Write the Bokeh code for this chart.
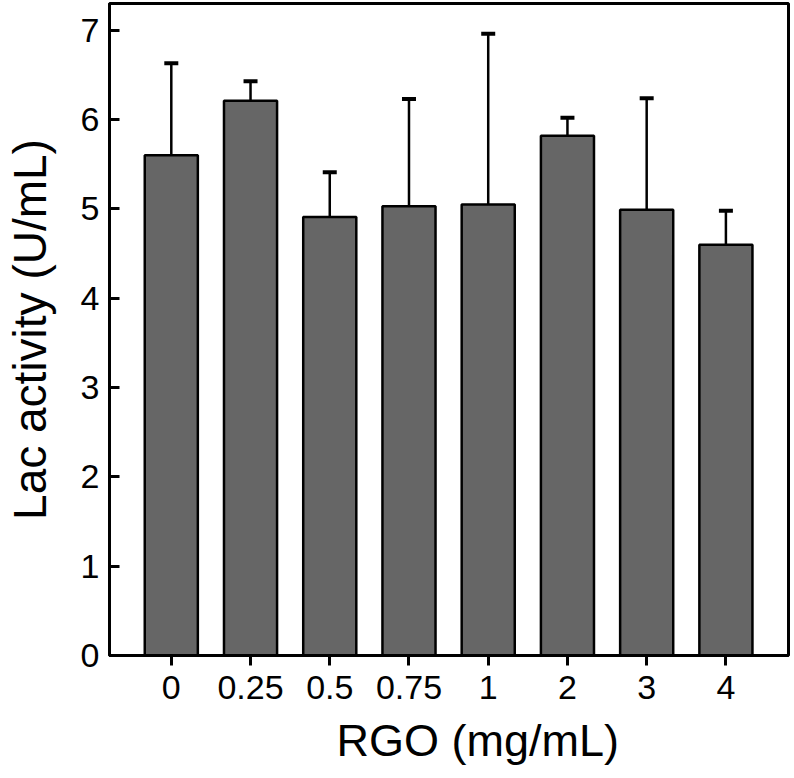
from bokeh.plotting import figure
from bokeh.models import ColumnDataSource, Whisker, TeeHead, Range1d, FixedTicker, Title
from bokeh.embed import file_html
from bokeh.resources import INLINE

categories = ["0", "0.25", "0.5", "0.75", "1", "2", "3", "4"]
activity = [5.60, 6.21, 4.91, 5.03, 5.05, 5.82, 4.99, 4.60]
error = [1.03, 0.22, 0.50, 1.20, 1.91, 0.20, 1.25, 0.38]
x_title = "RGO (mg/mL)"
y_title = "Lac activity (U/mL)"

xpos = list(range(len(categories)))
upper = [a + e for a, e in zip(activity, error)]
src = ColumnDataSource(dict(x=xpos, top=activity, upper=upper))

FONT = "Liberation Sans"

p = figure(width=792, height=776, output_backend="svg", toolbar_location=None,
           x_range=Range1d(-0.78, 7.79), y_range=Range1d(0, 7.30),
           min_border_left=106, min_border_right=4, min_border_top=3, min_border_bottom=118)

p.vbar(x="x", top="top", bottom=0, width=0.67, source=src,
       fill_color="#666666", line_color="black", line_width=2.5)

w = Whisker(base="x", lower="top", upper="upper", source=src,
            line_color="black", line_width=2.5,
            upper_head=TeeHead(size=14, line_width=4, line_color="black"),
            lower_head=None)
p.add_layout(w)

p.grid.visible = False
p.outline_line_color = "black"
p.outline_line_width = 3
p.outline_line_alpha = 1.0

p.xaxis.ticker = FixedTicker(ticks=xpos)
p.xaxis.major_label_overrides = {i: c for i, c in zip(xpos, categories)}
p.yaxis.ticker = FixedTicker(ticks=[0, 1, 2, 3, 4, 5, 6, 7])

for ax in (p.xaxis[0], p.yaxis[0]):
    ax.axis_line_color = "black"
    ax.axis_line_width = 3
    ax.major_tick_line_width = 3
    ax.major_tick_line_color = "black"
    ax.minor_tick_line_color = None
    ax.major_label_text_font = FONT
    ax.major_label_text_font_size = "34px"
    ax.major_label_text_color = "black"
    ax.axis_label_text_font = FONT
    ax.axis_label_text_font_size = "46px"
    ax.axis_label_text_font_style = "normal"
    ax.axis_label_text_color = "black"

p.xaxis.major_tick_in = 0
p.xaxis.major_tick_out = 10
p.xaxis.major_label_standoff = 10

p.yaxis.major_tick_in = 10
p.yaxis.major_tick_out = 0
p.yaxis.major_label_standoff = 10
p.yaxis.axis_label = y_title
p.yaxis.axis_label_standoff = 22

xt = Title(text=x_title, align="left", offset=227, text_font=FONT,
           text_font_size="45px", text_font_style="normal", text_color="black",
           standoff=22)
p.add_layout(xt, "below")

open("out.html", "w").write(file_html(p, INLINE))
